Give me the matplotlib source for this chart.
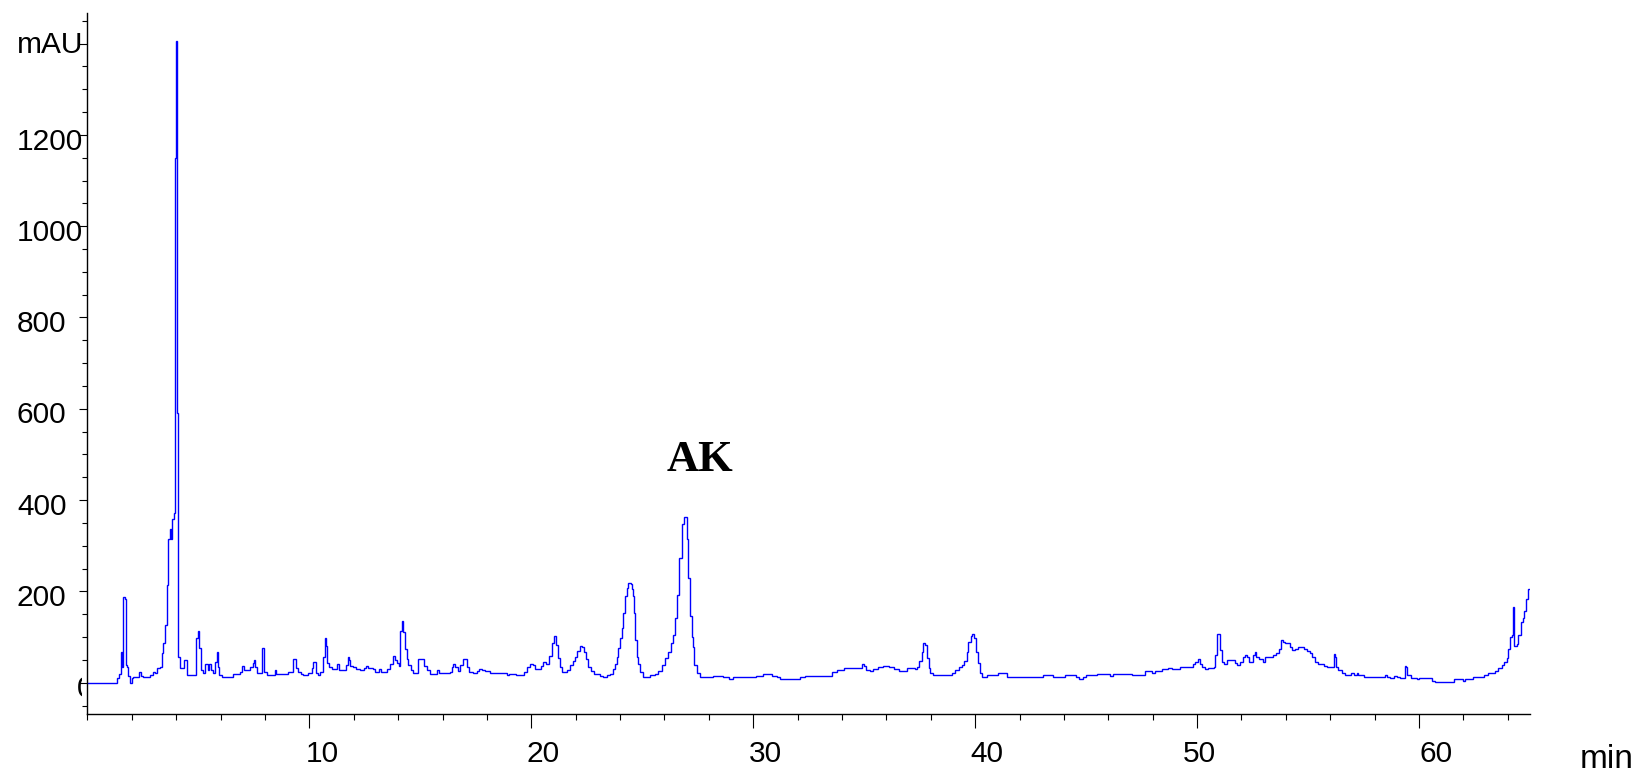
import matplotlib
matplotlib.use('Agg')
import matplotlib.pyplot as plt
from matplotlib import transforms
from matplotlib.ticker import MultipleLocator, FixedLocator, NullFormatter

# ---------------- data ----------------
times = [0.00, 1.35, 1.44, 1.51, 1.54, 1.62, 1.71, 1.72, 1.80, 1.84, 1.92, 1.99, 2.07, 2.34, 2.40,
         2.52, 2.82, 2.94, 3.05, 3.15, 3.27, 3.38, 3.42, 3.50, 3.57, 3.65, 3.72, 3.77, 3.83, 3.90,
         3.95, 3.97, 4.00, 4.03, 4.06, 4.10, 4.17, 4.37, 4.50, 4.89, 5.00, 5.05, 5.10, 5.22, 5.30,
         5.45, 5.50, 5.57, 5.67, 5.75, 5.82, 5.87, 5.94, 6.05, 6.55, 6.88, 6.98, 7.06, 7.33, 7.45,
         7.51, 7.57, 7.63, 7.85, 7.97, 8.08, 8.45, 8.52, 9.06, 9.25, 9.40, 9.51, 9.61, 9.73, 9.96,
         10.11, 10.18, 10.30, 10.41, 10.48, 10.60, 10.71, 10.75, 10.81, 10.90, 11.01, 11.26, 11.32,
         11.65, 11.73, 11.79, 11.83, 11.95, 12.10, 12.28, 12.47, 12.55, 12.66, 12.89, 12.96, 13.16,
         13.22, 13.49, 13.64, 13.76, 13.86, 13.97, 14.04, 14.09, 14.18, 14.24, 14.31, 14.39, 14.46,
         14.57, 14.69, 14.91, 15.17, 15.29, 15.44, 15.74, 15.86, 16.34, 16.42, 16.49, 16.57, 16.72,
         16.79, 16.91, 17.09, 17.21, 17.39, 17.54, 17.66, 17.77, 17.92, 18.14, 18.89, 18.92, 19.01,
         19.31, 19.68, 19.80, 19.92, 20.07, 20.17, 20.32, 20.43, 20.55, 20.67, 20.82, 20.92, 21.03,
         21.12, 21.22, 21.30, 21.40, 21.60, 21.75, 21.87, 21.97, 22.08, 22.20, 22.30, 22.38, 22.47,
         22.57, 22.68, 22.83, 23.10, 23.25, 23.40, 23.55, 23.67, 23.78, 23.85, 23.93, 24.00, 24.08,
         24.15, 24.23, 24.30, 24.38, 24.48, 24.53, 24.60, 24.65, 24.69, 24.75, 24.83, 24.90, 25.02,
         25.35, 25.58, 25.73, 25.88, 26.03, 26.18, 26.28, 26.37, 26.48, 26.58, 26.67, 26.78, 26.87,
         27.01, 27.08, 27.16, 27.23, 27.28, 27.34, 27.46, 27.61, 28.18, 28.63, 28.93, 29.08, 30.13,
         30.46, 30.84, 31.06, 31.21, 32.11, 32.34, 33.54, 33.76, 34.07, 34.89, 34.97, 35.09, 35.27,
         35.39, 35.64, 35.84, 36.14, 36.35, 36.59, 36.92, 37.29, 37.40, 37.49, 37.60, 37.67, 37.75,
         37.82, 37.90, 37.97, 38.09, 38.95, 39.10, 39.25, 39.40, 39.50, 39.62, 39.70, 39.80, 39.88,
         39.95, 40.05, 40.11, 40.20, 40.30, 40.52, 41.05, 41.43, 43.05, 43.50, 44.06, 44.55, 44.70,
         44.85, 45.00, 45.48, 45.78, 46.08, 46.23, 46.68, 47.06, 47.66, 47.96, 48.11, 48.41, 48.71,
         48.86, 49.24, 49.81, 49.91, 50.02, 50.11, 50.21, 50.36, 50.51, 50.74, 50.81, 50.89, 51.02,
         51.11, 51.22, 51.34, 51.72, 51.82, 51.94, 52.06, 52.17, 52.24, 52.32, 52.51, 52.59, 52.66,
         52.81, 52.96, 53.04, 53.41, 53.56, 53.71, 53.77, 53.86, 53.97, 54.17, 54.27, 54.42, 54.53,
         54.65, 54.80, 54.95, 55.07, 55.17, 55.32, 55.47, 55.70, 55.85, 56.16, 56.22, 56.27, 56.37,
         56.52, 56.67, 56.94, 57.05, 57.20, 57.27, 57.53, 58.48, 58.55, 58.70, 58.85, 59.00, 59.15,
         59.35, 59.42, 59.48, 59.63, 59.90, 60.00, 60.58, 60.73, 61.58, 61.98, 62.08, 62.43, 62.91,
         63.13, 63.33, 63.43, 63.58, 63.73, 63.84, 63.96, 64.03, 64.11, 64.18, 64.23, 64.30, 64.41,
         64.48, 64.59, 64.68, 64.74, 64.83, 64.93, 65.00]

mau = [0, 9.6, 20, 68, 35, 187, 183, 39, 35, 15, 0, 10, 13, 24, 15,
       13, 17, 24, 21, 32, 35, 65, 87, 127, 215, 314, 336, 314, 358, 372,
       1150, 1230, 1405, 590, 490, 57, 32, 50, 17, 97, 114, 76, 28, 21, 41,
       28, 41, 28, 21, 46, 68, 35, 17, 12, 19, 24, 37, 28, 35, 43,
       50, 35, 21, 76, 24, 17, 28, 20, 24, 51, 32, 24, 20, 17, 22,
       32, 46, 21, 17, 24, 57, 97, 81, 43, 34, 29, 41, 28,
       39, 56, 50, 37, 34, 29, 28, 32, 37, 32, 29, 24, 29,
       24, 29, 41, 59, 50, 43, 37, 114, 136, 112, 73, 51, 39,
       28, 21, 51, 37, 28, 19, 28, 22, 24, 34, 41, 34, 26,
       39, 51, 34, 24, 22, 26, 31, 28, 26, 22, 20, 17, 20,
       17, 24, 35, 42, 39, 31, 29, 37, 45, 41, 59, 88, 103,
       83, 53, 35, 24, 28, 39, 48, 57, 70, 81, 79, 68, 51,
       35, 26, 20, 15, 13, 17, 20, 31, 42, 57, 75, 97, 119,
       152, 189, 207, 218, 217, 205, 189, 152, 94, 57, 41, 24, 13,
       17, 20, 26, 39, 53, 68, 86, 105, 141, 193, 273, 347, 363,
       314, 229, 145, 100, 79, 39, 21, 12, 15, 12, 8, 12, 15,
       20, 15, 12, 8, 12, 15, 23, 28, 32, 41, 37, 28, 26,
       29, 34, 37, 34, 29, 26, 32, 29, 35, 48, 68, 88, 83,
       53, 32, 21, 17, 22, 27, 34, 39, 48, 68, 90, 103, 107,
       98, 68, 43, 22, 13, 16, 21, 13, 16, 13, 16, 12, 8,
       12, 16, 20, 18, 15, 18, 20, 16, 25, 22, 25, 29, 33,
       30, 34, 41, 46, 51, 41, 35, 29, 33, 35, 61, 107, 72,
       46, 41, 50, 43, 39, 46, 56, 61, 56, 46, 61, 67, 57,
       52, 46, 56, 61, 66, 73, 94, 90, 88, 78, 72, 73, 79,
       78, 73, 70, 66, 57, 46, 41, 37, 34, 62, 57, 35, 28,
       21, 17, 21, 17, 21, 17, 13, 17, 13, 10, 15, 12, 10,
       37, 34, 17, 10, 7, 10, 4, 2, 7, 4, 9, 13, 16,
       21, 22, 26, 32, 39, 46, 54, 73, 100, 105, 166, 81, 85,
       105, 134, 141, 156, 183, 205, 205]

x_tick_values = [10, 20, 30, 40, 50, 60]
y_tick_values = [200, 400, 600, 800, 1000, 1200]
y_unit = 'mAU'
x_unit = 'min'
peak_name = 'AK'
peak_x, peak_y = 27.6, 463

# ---------------- figure ----------------
W, H = 1639, 776
plt.rcParams['font.family'] = ['Liberation Sans', 'DejaVu Sans']
fig = plt.figure(figsize=(W / 100, H / 100), dpi=100)
fig.patch.set_facecolor('white')

x0, x1, ytop, ybot = 87.4, 1530.0, 13.0, 714.0
ax = fig.add_axes([x0 / W, 1 - ybot / H, (x1 - x0) / W, (ybot - ytop) / H])
ax.plot(times, mau, color='#0000ff', lw=1.0, drawstyle='steps-post', solid_joinstyle='miter')
ax.set_xlim(0, 65)
ax.set_ylim(-68.6, 1467)

for s in ['top', 'right']:
    ax.spines[s].set_visible(False)
for s in ['left', 'bottom']:
    ax.spines[s].set_linewidth(1.0)
    ax.spines[s].set_color('black')

ax.xaxis.set_major_locator(FixedLocator(x_tick_values))
ax.xaxis.set_minor_locator(MultipleLocator(2))
ax.yaxis.set_major_locator(MultipleLocator(200))
ax.yaxis.set_minor_locator(MultipleLocator(50))
ax.xaxis.set_major_formatter(NullFormatter())
ax.yaxis.set_major_formatter(NullFormatter())
ax.tick_params(axis='x', which='major', length=10, width=0.8)
ax.tick_params(axis='x', which='minor', length=4.3, width=0.8)
ax.tick_params(axis='y', which='major', length=5.8, width=0.8)
ax.tick_params(axis='y', which='minor', length=3.4, width=0.8)

# x tick labels (the original software places them slightly right of the ticks)
xtrans = transforms.blended_transform_factory(ax.transData, fig.transFigure)
label_shift_px = [12.7, 12.0, 12.0, 12.0, 2.0, 17.0]
for v, dx in zip(x_tick_values, label_shift_px):
    tr = transforms.offset_copy(xtrans, fig=fig, x=dx, y=0, units='dots')
    ax.text(v, 1 - 761.7 / H, str(v), transform=tr, ha='center', va='baseline', fontsize=21.5)

# y tick labels, left aligned
ytrans = transforms.offset_copy(transforms.blended_transform_factory(fig.transFigure, ax.transData),
                                fig=fig, x=0, y=-14.7, units='dots')
for v in y_tick_values:
    ax.text(17 / W, v, str(v), transform=ytrans, ha='left', va='baseline', fontsize=21.5)

# partially hidden zero label
zt = fig.text(76.5 / W, 1 - 697 / H, '0', ha='left', va='baseline', fontsize=21.5)
zt.set_clip_box(transforms.TransformedBbox(transforms.Bbox([[0, 0], [81.5 / W, 1]]), fig.transFigure))
zt.set_clip_on(True)

fig.text(17 / W, 1 - 53 / H, y_unit, ha='left', va='baseline', fontsize=21.5)
fig.text(1580 / W, 1 - 768 / H, x_unit, ha='left', va='baseline', fontsize=24)

ax.text(peak_x, peak_y, peak_name, ha='center', va='baseline', fontsize=32,
        fontweight='bold', family=['Liberation Serif', 'DejaVu Serif'])

fig.savefig('out.png', dpi=100, facecolor='white')
